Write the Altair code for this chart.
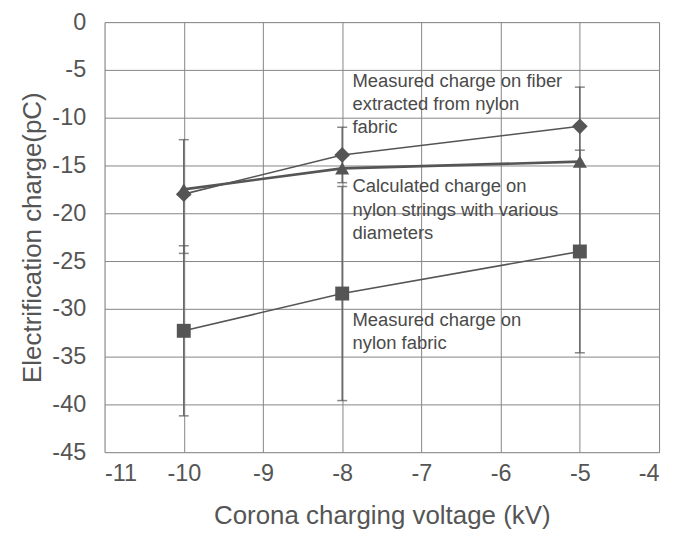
import altair as alt
import pandas as pd

# Data
voltages = [-10, -8, -5]
fiber_charge = [-18.0, -13.9, -10.9]
fiber_upper = [-12.3, -11.0, -6.8]
fiber_lower = [-24.2, -16.8, -15.0]
fabric_charge = [-32.3, -28.4, -24.0]
fabric_upper = [-23.4, -17.2, -13.4]
fabric_lower = [-41.2, -39.6, -34.6]
calc_charge = [-17.5, -15.3, -14.6]

note_x = [-7.87] * 8
note_y = [-6.2, -8.6, -11.0, -17.2, -19.65, -22.1, -31.2, -33.6]
note_text = [
    "Measured charge on fiber",
    "extracted from nylon",
    "fabric",
    "Calculated charge on",
    "nylon strings with various",
    "diameters",
    "Measured charge on",
    "nylon fabric",
]

x_ticks = list(range(-11, -3))
y_ticks = list(range(-45, 1, 5))

GRAY = "#555555"
FONT = "Liberation Sans"

fiber = pd.DataFrame({"v": voltages, "c": fiber_charge, "hi": fiber_upper, "lo": fiber_lower})
fabric = pd.DataFrame({"v": voltages, "c": fabric_charge, "hi": fabric_upper, "lo": fabric_lower})
calc = pd.DataFrame({"v": voltages, "c": calc_charge})
notes = pd.DataFrame({"x": note_x, "y": note_y, "t": note_text})
err = pd.concat([fiber, fabric], ignore_index=True)
caps = pd.DataFrame({"v": list(err["v"]) * 2, "y": list(err["hi"]) + list(err["lo"])})

xs = alt.Scale(domain=[-11, -4], nice=False, zero=False)
ys = alt.Scale(domain=[-45, 0], nice=False, zero=False)

X = alt.X("v:Q", scale=xs, title="Corona charging voltage (kV)",
          axis=alt.Axis(values=x_ticks, grid=True, gridColor="#858585", gridWidth=1,
                        ticks=False, domain=False, labelFontSize=23.5, labelPadding=9,
                        labelExpr="'' + datum.value",
                        labelColor=GRAY, titleColor=GRAY, titleFontSize=26,
                        titleFontWeight="normal", titlePadding=18, labelFont=FONT,
                        titleFont=FONT))
Y = alt.Y("c:Q", scale=ys, title="Electrification charge(pC)",
          axis=alt.Axis(values=y_ticks, grid=True, gridColor="#858585", gridWidth=1,
                        ticks=False, domain=False, labelFontSize=23.5, labelPadding=19,
                        labelExpr="'' + datum.value",
                        labelColor=GRAY, titleColor=GRAY, titleFontSize=26,
                        titleFontWeight="normal", titlePadding=6, labelFont=FONT,
                        titleFont=FONT))

base_err = alt.Chart(err).mark_rule(color="#666666", strokeWidth=1.5).encode(
    x=alt.X("v:Q", scale=xs), y=alt.Y("lo:Q", scale=ys), y2="hi:Q")
cap_marks = alt.Chart(caps).mark_tick(color="#555555", orient="horizontal", size=10, thickness=1.5).encode(
    x=alt.X("v:Q", scale=xs), y=alt.Y("y:Q", scale=ys))

fiber_line = alt.Chart(fiber).mark_line(color=GRAY, strokeWidth=1.6).encode(x=X, y=Y)
fiber_pts = alt.Chart(fiber).mark_point(shape="diamond", filled=True, color=GRAY, size=250, opacity=1).encode(x=X, y=Y)
fabric_line = alt.Chart(fabric).mark_line(color=GRAY, strokeWidth=1.6).encode(x=X, y=Y)
fabric_pts = alt.Chart(fabric).mark_point(shape="square", filled=True, color=GRAY, size=196, opacity=1).encode(x=X, y=Y)
calc_line = alt.Chart(calc).mark_line(color=GRAY, strokeWidth=2.6).encode(x=X, y=Y)
calc_pts = alt.Chart(calc).mark_point(shape="triangle-up", filled=True, color=GRAY, size=200, opacity=1).encode(x=X, y=Y)

text = alt.Chart(notes).mark_text(align="left", baseline="middle", fontSize=18.5, color="#4a4a4a",
                                  font=FONT).encode(
    x=alt.X("x:Q", scale=xs), y=alt.Y("y:Q", scale=ys), text="t:N")

chart = alt.layer(base_err, cap_marks, fiber_line, calc_line, fabric_line,
                  fiber_pts, calc_pts, fabric_pts, text).properties(
    width=557, height=432,
    autosize=alt.AutoSizeParams(type="none"),
    padding={"left": 97, "top": 13, "right": 12, "bottom": 80},
).configure_view(stroke="#666666", strokeWidth=3).configure(background="white")

chart.save("out.html", embed_options={"renderer": "svg", "actions": False})
